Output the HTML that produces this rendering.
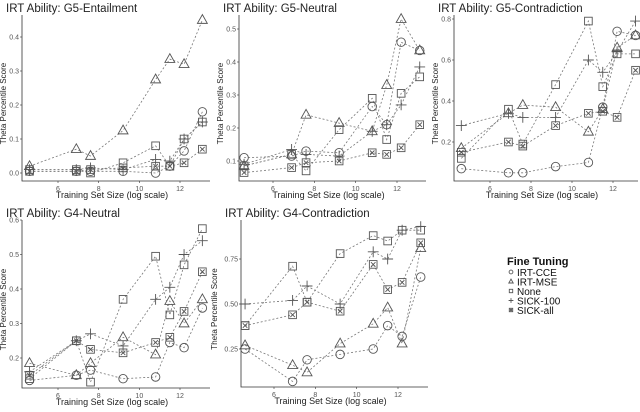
<!DOCTYPE html>
<html><head><meta charset="utf-8"><style>
body{margin:0;background:#fff;font-family:"Liberation Sans",sans-serif}
svg text{font-family:"Liberation Sans",sans-serif}
</style></head><body>
<svg id="c" width="640" height="407"></svg>
<script>
const xs=[4.6,6.9,7.6,9.2,10.8,11.5,12.2,13.1];
const seriesNames=["IRT-CCE","IRT-MSE","None","SICK-100","SICK-all"];
const seriesShapes=["circle","triangle","square","plus","squarex"];
const titles=["IRT Ability: G5-Entailment","IRT Ability: G5-Neutral","IRT Ability: G5-Contradiction","IRT Ability: G4-Neutral","IRT Ability: G4-Contradiction"];
const xTicks=[6,8,10,12];
const yTicks=[[0.0,0.1,0.2,0.3,0.4],[0.1,0.2,0.3,0.4,0.5],[0.2,0.4,0.6,0.8],[0.2,0.3,0.4,0.5,0.6],[0.25,0.5,0.75]];
const yTickLabels=[["0.0","0.1","0.2","0.3","0.4"],["0.1","0.2","0.3","0.4","0.5"],["0.2","0.4","0.6","0.8"],["0.2","0.3","0.4","0.5","0.6"],["0.25","0.50","0.75"]];
const p1=[[0.005,0.005,0.005,0.005,0.0,0.02,0.065,0.18],[0.02,0.07,0.05,0.125,0.275,0.335,0.32,0.45],[0.01,0.01,0.0,0.03,0.08,0.02,0.1,0.15],[0.01,0.01,0.015,0.01,0.04,0.035,0.1,0.15],[0.005,0.005,0.01,0.015,0.02,0.02,0.03,0.07]];
const p2=[[0.11,0.115,0.13,0.125,0.265,0.21,0.46,0.435],[0.085,0.12,0.24,0.215,0.19,0.33,0.53,0.435],[0.085,0.12,0.07,0.195,0.29,0.165,0.305,0.355],[0.09,0.135,0.12,0.115,0.19,0.21,0.27,0.385],[0.065,0.08,0.095,0.1,0.125,0.12,0.14,0.21]];
const p3=[[0.07,0.05,0.05,0.08,0.1,0.37,0.74,0.72],[0.17,0.34,0.38,0.37,0.25,0.36,0.66,0.72],[0.12,0.36,0.19,0.48,0.79,0.47,0.63,0.63],[0.28,0.34,0.32,0.32,0.6,0.54,0.64,0.79],[0.15,0.2,0.18,0.28,0.34,0.35,0.32,0.55]];
const p4=[[0.135,0.15,0.165,0.14,0.145,0.245,0.23,0.345],[0.185,0.15,0.185,0.26,0.21,0.365,0.3,0.37],[0.14,0.25,0.13,0.37,0.495,0.325,0.47,0.575],[0.16,0.25,0.27,0.235,0.37,0.405,0.5,0.54],[0.15,0.25,0.225,0.215,0.245,0.26,0.335,0.45]];
const p5=[[0.25,0.07,0.19,0.22,0.25,0.38,0.32,0.65],[0.27,0.16,0.12,0.28,0.39,0.48,0.28,0.81],[0.38,0.71,0.51,0.78,0.88,0.85,0.91,0.91],[0.50,0.52,0.60,0.50,0.79,0.75,0.91,0.93],[0.38,0.44,0.51,0.46,0.72,0.58,0.62,0.84]];
const panelData=[p1,p2,p3,p4,p5];
// layout (pixels)
const layout=[
 {left:22,bottom:181,top:10,right:212,x6:58,x12:180,yA:[0.0,173],yB:[0.4,37]},
 {left:239,bottom:181,top:10,right:428,x6:273,x12:397,yA:[0.1,161],yB:[0.5,29]},
 {left:454,bottom:181,top:10,right:640,x6:490,x12:613,yA:[0.2,142],yB:[0.8,19]},
 {left:22,bottom:388,top:215,right:212,x6:58,x12:180,yA:[0.2,358],yB:[0.6,220]},
 {left:241,bottom:387,top:215,right:430,x6:274,x12:398,yA:[0.25,349],yB:[0.75,259]}
];
const svg=document.getElementById('c');
const NS="http://www.w3.org/2000/svg";
function mk(tag,attrs,parent){const e=document.createElementNS(NS,tag);for(const k in attrs)e.setAttribute(k,attrs[k]);(parent||svg).appendChild(e);return e;}
function marker(g,shape,x,y,s){
 const st={fill:"none",stroke:"#555","stroke-width":0.9};
 if(shape==="circle"){mk("circle",Object.assign({cx:x,cy:y,r:s*0.95},st),g);}
 else if(shape==="triangle"){mk("polygon",Object.assign({points:`${x},${y-s*1.2} ${x-s*1.1},${y+s*0.75} ${x+s*1.1},${y+s*0.75}`},st),g);}
 else if(shape==="square"){mk("rect",Object.assign({x:x-s*0.85,y:y-s*0.85,width:s*1.7,height:s*1.7},st),g);}
 else if(shape==="plus"){mk("path",Object.assign({d:`M${x-s*1.2},${y}H${x+s*1.2}M${x},${y-s*1.2}V${y+s*1.2}`},st),g);}
 else {mk("rect",Object.assign({x:x-s*0.85,y:y-s*0.85,width:s*1.7,height:s*1.7},st),g);
  mk("path",Object.assign({d:`M${x-s*0.5},${y-s*0.5}L${x+s*0.5},${y+s*0.5}M${x+s*0.5},${y-s*0.5}L${x-s*0.5},${y+s*0.5}`},st),g);}
}
panelData.forEach((data,pi)=>{
 const L=layout[pi];
 const g=mk("g",{});
 
 
 const xScale=v=>L.x6+(v-6)*(L.x12-L.x6)/6;
 const yScale=v=>L.yA[1]+(v-L.yA[0])*(L.yB[1]-L.yA[1])/(L.yB[0]-L.yA[0]);
 const t=mk("text",{x:L.left-16,y:L.top+2,"font-size":11.5,fill:"#222"},g);t.textContent=titles[pi];
 
 const ax=mk("path",{d:`M${L.left},${L.top+5}V${L.bottom}H${L.right-2}`,stroke:"#333",fill:"none","stroke-width":0.8},g);
 
 xTicks.forEach(v=>{const x=xScale(v);mk("line",{x1:x,x2:x,y1:L.bottom,y2:L.bottom+2,stroke:"#333","stroke-width":0.6},g);
  const tx=mk("text",{x:x,y:L.bottom+10,"font-size":7,fill:"#555","text-anchor":"middle"},g);tx.textContent=v;
  });
 yTicks[pi].forEach((v,i)=>{const y=yScale(v);mk("line",{x1:L.left-2,x2:L.left,y1:y,y2:y,stroke:"#333","stroke-width":0.6},g);
  const ty=mk("text",{x:L.left-3,y:y+2.5,"font-size":7,fill:"#555","text-anchor":"end"},g);ty.textContent=yTickLabels[pi][i];
  });
 const xt=mk("text",{x:(L.left+L.right)/2-5,y:L.bottom+17,"font-size":9,fill:"#222","text-anchor":"middle"},g);xt.textContent="Training Set Size (log scale)";
 
 const cy=(L.top+L.bottom)/2+8;const cx=L.left-(pi===4?24:16);
 const yt=mk("text",{x:cx,y:cy,"font-size":8,fill:"#222","text-anchor":"middle",transform:`rotate(-90 ${cx} ${cy})`},g);yt.textContent="Theta Percentile Score";
 
 data.forEach((ser,si)=>{
  const d=ser.map((v,i)=>(i?"L":"M")+xScale(xs[i]).toFixed(1)+","+yScale(v).toFixed(1)).join("");
  const ln=mk("path",{d:d,fill:"none",stroke:"#777","stroke-width":0.8,"stroke-dasharray":"2,2"},g);
  
  
  ser.forEach((v,i)=>{const mg=mk("g",{},g);
   
   
   marker(mg,seriesShapes[si],xScale(xs[i]),yScale(v),4.5);});
 });
});
// legend
const lg=mk("g",{});


const lt=mk("text",{x:507,y:265,"font-size":11,"font-weight":"bold",fill:"#111"},lg);lt.textContent="Fine Tuning";

seriesNames.forEach((n,i)=>{const y=275+i*9.5;const eg=mk("g",{},lg);
 
 
 marker(eg,seriesShapes[i],511,y-3,2);
 const tx=mk("text",{x:517,y:y+1,"font-size":10,fill:"#111"},eg);tx.textContent=n;});
</script>
</body></html>
